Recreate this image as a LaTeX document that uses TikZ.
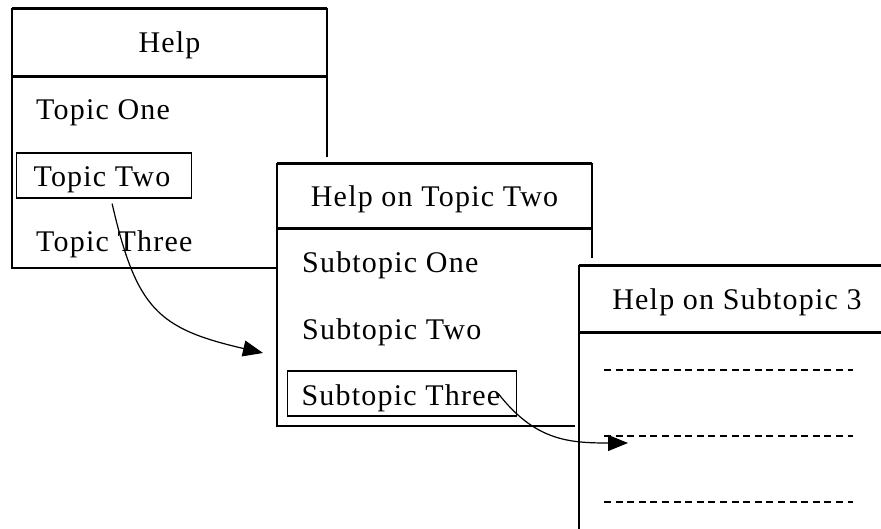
\documentclass[tikz,border=0pt]{standalone}
\usepackage{fontspec}
\setmainfont{Liberation Serif}[LetterSpace=4]
\usetikzlibrary{arrows.meta}

\begin{document}
\begin{tikzpicture}[x=1pt,y=-1pt]
\tikzstyle{frame}=[line width=1.5pt]
\tikzstyle{bar}=[line width=3pt]
\tikzstyle{txt}=[inner sep=0pt, font=\fontsize{30}{36}\selectfont]
\tikzstyle{item}=[txt, anchor=base west]
\tikzstyle{title}=[txt, anchor=base]
\tikzstyle{selbox}=[txt, draw, line width=1.2pt, anchor=base west, align=flush left,
    text height=30pt, text depth=7pt, inner ysep=4pt]
\tikzstyle{flow}=[line width=1.2pt, -{Triangle[length=20pt,width=16pt]}]

\useasboundingbox (0,0) rectangle (881,529);
\clip (0,0) rectangle (881,529);

% first window
\draw [frame] (12,8) -- (12,268) -- (278,268);
\draw [frame] (327,8) -- (327,157);
\draw [bar] (12,8.5) -- (327,8.5);
\draw [bar] (12,77) -- (327,77);

\node (help) at (169.5,53) [title] {Help};
\node (t1) at (36,120) [item] {Topic One};
\node (t2) at (16,187) [selbox, inner xsep=17pt, text width=141pt] {Topic Two};
\node (t3) at (36,252) [item] {Topic Three};

% second window
\fill [white] (276,157) rectangle (593,427);
\draw [frame] (277,163) -- (277,426) -- (592,426) -- (592,163);
\draw [bar] (277,163.5) -- (592,163.5);
\draw [bar] (277,229) -- (592,229);

\node (help2) at (434.5,207) [title] {Help on Topic Two};
\node (s1) at (302,273) [item] {Subtopic One};
\node (s2) at (302,340) [item] {Subtopic Two};
\node (s3) at (287,405) [selbox, inner xsep=14pt, text width=201pt] {Subtopic Three};

% third window, runs off the page
\fill [white] (575,258) rectangle (881,529);
\draw [frame] (579,265) -- (579,529);
\draw [bar] (579,265.5) -- (881,265.5);
\draw [bar] (579,333) -- (881,333);

\node (help3) at (737,310) [title] {Help on Subtopic 3};
\foreach \y in {370,436,502}
    \draw [line width=1.2pt, dash pattern=on 7pt off 4.6pt] (604,\y) -- (853,\y);

% links between the windows
\coordinate (end1) at (263,353);
\coordinate (end2) at (628,443);
\draw [flow] ([xshift=8pt,yshift=-5pt]t2.south) to [out=-77, in=167, looseness=1.3] (end1);
\draw [flow] ([xshift=-19pt]s3.east) to [out=-52, in=180, looseness=1.1] (end2);

\end{tikzpicture}
\end{document}
